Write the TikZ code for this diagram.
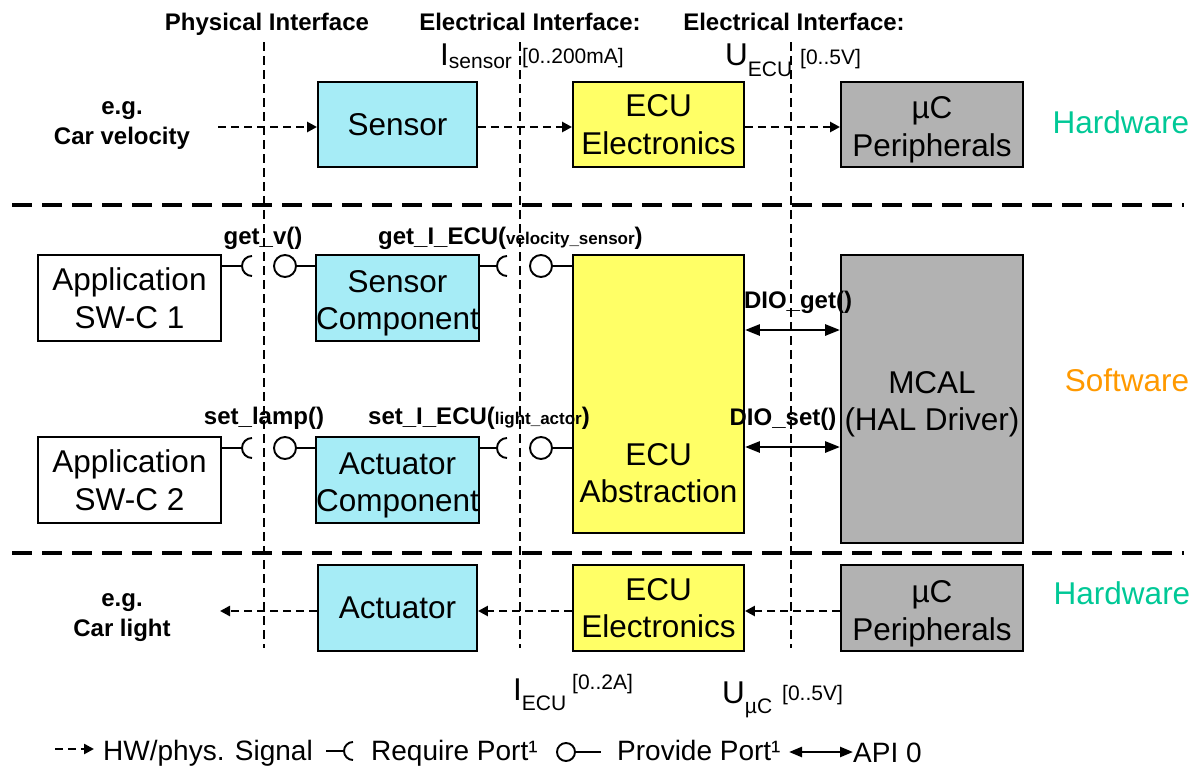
\documentclass[tikz,border=0pt]{standalone}
\usepackage{fontspec}
\setmainfont{Liberation Sans}
\usetikzlibrary{arrows.meta}
\definecolor{cyanbox}{RGB}{166,236,246}
\definecolor{yellowbox}{RGB}{255,255,102}
\definecolor{graybox}{RGB}{178,178,178}
\definecolor{hwcol}{RGB}{0,200,150}
\definecolor{swcol}{RGB}{255,153,0}
\newcommand{\fBox}{\fontsize{31.5}{37.5}\selectfont}
\newcommand{\fLab}{\fontsize{24}{28}\selectfont\bfseries}
\newcommand{\fSmall}{\fontsize{17}{20}\selectfont\bfseries}
\newcommand{\fRng}{\fontsize{21}{24}\selectfont}
\newcommand{\fSub}{\fontsize{21}{24}\selectfont}
\newcommand{\fLeg}{\fontsize{28}{34}\selectfont}
\newcommand{\tallA}{\rule{0pt}{33pt}}
\begin{document}
\begin{tikzpicture}[x=1pt,y=-1pt,
  box/.style={draw=black, line width=1.9pt, inner sep=0pt, align=center, font=\fBox},
  vline/.style={line width=2.7pt, dash pattern=on 9pt off 5pt},
  hline/.style={line width=4.2pt, dash pattern=on 20pt off 10pt},
  sig/.style={line width=2.6pt, dash pattern=on 8pt off 5pt, -{Triangle[length=10pt,width=10pt]}},
  api/.style={line width=2.8pt, {Triangle[length=15pt,width=11pt]}-{Triangle[length=15pt,width=11pt]}},
  wire/.style={line width=1.9pt},
  pport/.style={circle, draw=black, line width=1.9pt, minimum size=22pt, inner sep=0pt},
  lab/.style={font=\fLab, inner sep=0pt},
  txt/.style={inner sep=0pt}
]
\useasboundingbox (0,0) rectangle (1202,771);

% separators
\draw[vline] (264,42) -- (264,648);
\draw[vline] (520,42) -- (520,648);
\draw[vline] (791,42) -- (791,648);
\draw[hline] (12,205) -- (1184,205);
\draw[hline] (12,553) -- (1184,553);

% titles
\node[lab, anchor=base] (t1) at (267,30) {Physical Interface};
\node[lab, anchor=base] (t2) at (530,30) {Electrical Interface:};
\node[lab, anchor=base] (t3) at (794,30) {Electrical Interface:};

% top hardware
\node[box, fill=cyanbox, minimum width=159pt, minimum height=85pt] (sensor) at (397.5,124.5) {Sensor};
\node[box, fill=yellowbox, minimum width=171pt, minimum height=85pt] (ecuE1) at (658.5,124.5) {ECU\\Electronics};
\node[box, fill=graybox, minimum width=182pt, minimum height=85pt] (uc1) at (932,124.5) {\tallA µC\\Peripherals};

% software
\node[box, fill=white, minimum width=183pt, minimum height=86pt] (app1) at (129.5,298) {Application\\SW-C 1};
\node[box, fill=cyanbox, minimum width=159pt, minimum height=86pt] (sensComp) at (397.5,298) {\tallA Sensor\\Component};
\node[box, fill=yellowbox, minimum width=171pt, minimum height=278pt] (ecuAbs) at (658.5,394) {};
\node[txt, font=\fBox, align=center] (ecuAbsText) at (658.5,473) {ECU\\Abstraction};
\node[box, fill=graybox, minimum width=182pt, minimum height=288pt] (mcal) at (932,399) {\tallA MCAL\\(HAL Driver)};
\node[box, fill=white, minimum width=183pt, minimum height=86pt] (app2) at (129.5,480) {Application\\SW-C 2};
\node[box, fill=cyanbox, minimum width=159pt, minimum height=86pt] (actComp) at (397.5,480) {\tallA Actuator\\Component};

% bottom hardware
\node[box, fill=cyanbox, minimum width=159pt, minimum height=86pt] (actuator) at (397.5,608) {Actuator};
\node[box, fill=yellowbox, minimum width=171pt, minimum height=86pt] (ecuE2) at (658.5,608) {ECU\\Electronics};
\node[box, fill=graybox, minimum width=182pt, minimum height=86pt] (uc2) at (932,608) {\rule{0pt}{34pt}µC\\Peripherals};

% layer labels
\node[txt, font=\fBox, text=hwcol] (hw1) at (1121,122) {Hardware};
\node[txt, font=\fBox, text=swcol] (sw) at (1127,380) {Software};
\node[txt, font=\fBox, text=hwcol] (hw2) at (1122,593) {Hardware};

% examples
\node[lab, anchor=base] (eg1) at (122,114) {e.g.};
\node[lab, anchor=base] (eg2) at (122,144) {Car velocity};
\node[lab, anchor=base] (eg3) at (122,606) {e.g.};
\node[lab, anchor=base] (eg4) at (122,636) {Car light};

% signal arrows
\coordinate (s0) at (218,127);
\draw[sig] (s0) -- (sensor.west |- s0);
\draw[sig] (sensor.east |- s0) -- (ecuE1.west |- s0);
\draw[sig] (ecuE1.east |- s0) -- (uc1.west |- s0);
\coordinate (s1) at (220,611);
\draw[sig] (uc2.west |- s1) -- (ecuE2.east |- s1);
\draw[sig] (ecuE2.west |- s1) -- (actuator.east |- s1);
\draw[sig] (actuator.west |- s1) -- (s1);

% ranges
\node[txt, anchor=base west] (isens) at (440,65) {\fBox I\raisebox{-3pt}{\fSub sensor}};
\node[txt, anchor=base west] (rsens) at (522,63) {\fRng [0..200mA]};
\node[txt, anchor=base west] (uecu) at (725,65) {\fBox U\raisebox{-11pt}{\fSub ECU}};
\node[txt, anchor=base west] (recu) at (800,64) {\fRng [0..5V]};
\node[txt, anchor=base west] (iecu) at (513,700) {\fBox I\raisebox{-10pt}{\fSub ECU}};
\node[txt, anchor=base west] (r2a) at (572,689) {\fRng [0..2A]};
\node[txt, anchor=base west] (uuc) at (722,703) {\fBox U\raisebox{-10pt}{\fSub µC}};
\node[txt, anchor=base west] (r5v) at (782,700) {\fRng [0..5V]};

% ports row 1
\coordinate (rq1) at (252,266);
\node[pport] (pc1) at (285,266) {};
\draw[wire] (app1.east |- rq1) -- ([xshift=-10pt]rq1);
\draw[wire] ([yshift=10pt]rq1) arc[start angle=90, end angle=270, radius=10pt];
\draw[wire] (pc1.east) -- (sensComp.west |- pc1);
\coordinate (rq2) at (507,266);
\node[pport] (pc2) at (541,266) {};
\draw[wire] (sensComp.east |- rq2) -- ([xshift=-10pt]rq2);
\draw[wire] ([yshift=10pt]rq2) arc[start angle=90, end angle=270, radius=10pt];
\draw[wire] (pc2.east) -- (ecuAbs.west |- pc2);
% ports row 2
\coordinate (rq3) at (252,448);
\node[pport] (pc3) at (285,448) {};
\draw[wire] (app2.east |- rq3) -- ([xshift=-10pt]rq3);
\draw[wire] ([yshift=10pt]rq3) arc[start angle=90, end angle=270, radius=10pt];
\draw[wire] (pc3.east) -- (actComp.west |- pc3);
\coordinate (rq4) at (507,448);
\node[pport] (pc4) at (541,448) {};
\draw[wire] (actComp.east |- rq4) -- ([xshift=-10pt]rq4);
\draw[wire] ([yshift=10pt]rq4) arc[start angle=90, end angle=270, radius=10pt];
\draw[wire] (pc4.east) -- (ecuAbs.west |- pc4);

% port labels
\node[lab, anchor=base] (lgetv) at (263,244) {get\_v()};
\node[lab, anchor=base west] (lgetI) at (378,244) {get\_I\_ECU({\fSmall velocity\_sensor})};
\node[lab, anchor=base] (lsetl) at (264,424) {set\_lamp()};
\node[lab, anchor=base west] (lsetI) at (368,424) {set\_I\_ECU({\fSmall light\_actor})};

% DIO API
\coordinate (dg) at (792,330);
\coordinate (ds) at (792,447);
\draw[api] (ecuAbs.east |- dg) -- (mcal.west |- dg);
\draw[api] (ecuAbs.east |- ds) -- (mcal.west |- ds);
\node[lab, anchor=base] (ldg) at (798,308) {DIO\_get()};
\node[lab, anchor=base] (lds) at (783,425) {DIO\_set()};

% legend
\coordinate (lg0) at (55,749);
\coordinate (lg1) at (94,749);
\draw[sig] (lg0) -- (lg1);
\node[txt, anchor=base west] (lgt1) at (103,760) {\fLeg HW/phys. Signal};
\coordinate (lr0) at (326,751);
\coordinate (lr) at (353,751);
\draw[wire] (lr0) -- ([xshift=-9pt]lr);
\draw[wire] ([yshift=9pt]lr) arc[start angle=90, end angle=270, radius=9pt];
\node[txt, anchor=base west] (lgt2) at (371,760) {\fLeg Require Port¹};
\node[pport, minimum size=18pt] (lpc) at (566,752) {};
\coordinate (lp1) at (601,752);
\draw[wire] (lpc.east) -- (lp1);
\node[txt, anchor=base west] (lgt3) at (617,760) {\fLeg Provide Port¹};
\coordinate (la0) at (789,752);
\coordinate (la1) at (853,752);
\draw[line width=2.4pt, {Triangle[length=13pt,width=10pt]}-{Triangle[length=13pt,width=10pt]}] (la0) -- (la1);
\node[txt, anchor=base west] (lgt4) at (853,762) {\fLeg API 0};
\end{tikzpicture}
\end{document}
